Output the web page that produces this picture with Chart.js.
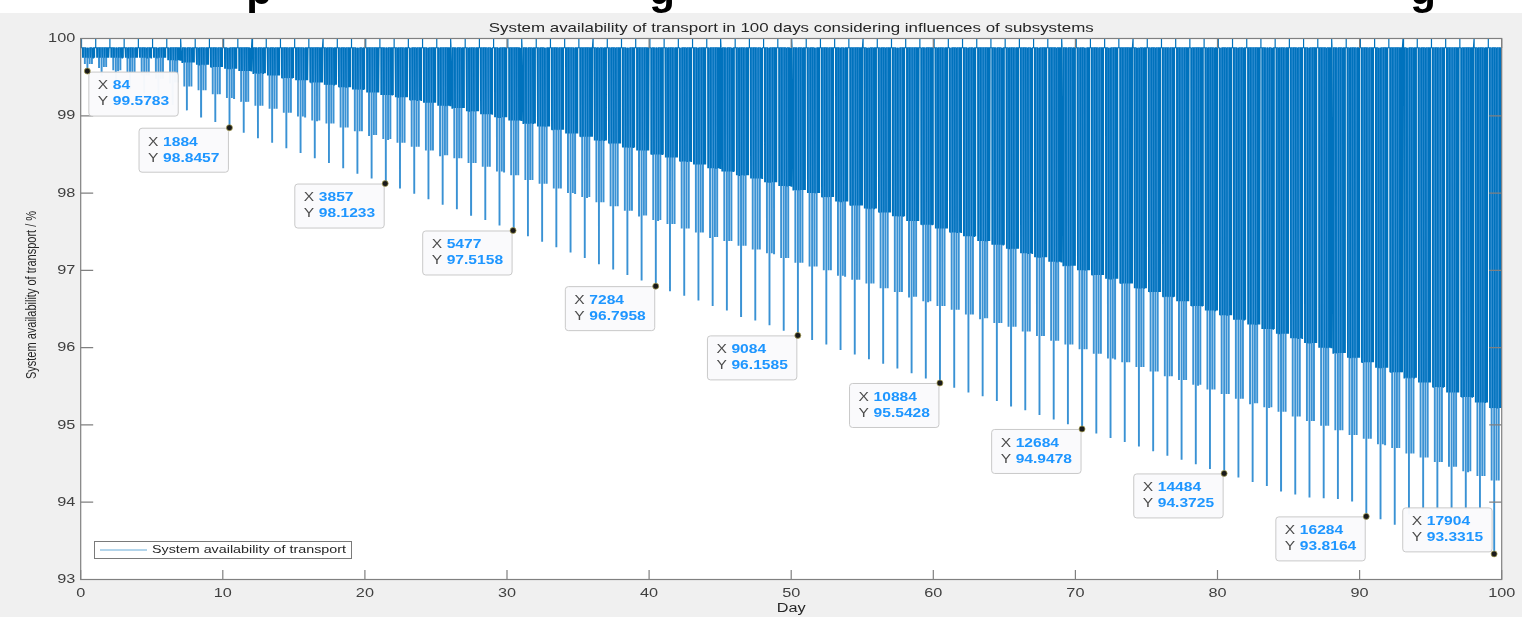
<!DOCTYPE html>
<html>
<head>
<meta charset="utf-8">
<script src="https://cdn.jsdelivr.net/npm/chart.js@4.4.1/dist/chart.umd.min.js"></script>
<style>
  html, body { margin: 0; padding: 0; background: #f0f0f0; overflow: hidden; }
  canvas { display: block; }
</style>
</head>
<body>
<canvas id="availability" width="1522" height="617"></canvas>
<script>
// values (per day, in %)
const samplesPerDay = 180;
const plateau = 99.88;

const deepDip = [
  99.58, 99.51, 99.43, 99.36, 99.29, 99.21, 99.14, 99.07, 98.99, 98.92,
  98.85, 98.78, 98.71, 98.65, 98.58, 98.52, 98.45, 98.39, 98.32, 98.25,
  98.19, 98.12, 98.06, 97.99, 97.92, 97.85, 97.79, 97.72, 97.65, 97.58,
  97.52, 97.44, 97.37, 97.30, 97.23, 97.16, 97.08, 97.01, 96.94, 96.87,
  96.80, 96.73, 96.67, 96.61, 96.54, 96.48, 96.41, 96.35, 96.29, 96.22,
  96.16, 96.10, 96.04, 95.97, 95.91, 95.85, 95.79, 95.73, 95.67, 95.60,
  95.54, 95.48, 95.42, 95.37, 95.31, 95.25, 95.19, 95.13, 95.07, 95.01,
  94.95, 94.89, 94.83, 94.78, 94.72, 94.66, 94.60, 94.55, 94.49, 94.43,
  94.37, 94.32, 94.26, 94.21, 94.15, 94.10, 94.06, 94.05, 94.04, 94.02,
  93.82, 93.78, 93.71, 93.84, 93.90, 93.90, 93.92, 93.90, 93.92, 93.33
];

const midDip = [
  99.67, 99.63, 99.59, 99.56, 99.52, 99.48, 99.43, 99.38, 99.33, 99.28,
  99.23, 99.18, 99.13, 99.09, 99.04, 98.99, 98.94, 98.90, 98.85, 98.80,
  98.75, 98.70, 98.65, 98.60, 98.55, 98.49, 98.45, 98.39, 98.34, 98.28,
  98.23, 98.17, 98.12, 98.06, 98.00, 97.95, 97.88, 97.83, 97.77, 97.71,
  97.65, 97.60, 97.54, 97.49, 97.43, 97.38, 97.32, 97.27, 97.22, 97.16,
  97.10, 97.05, 97.00, 96.93, 96.88, 96.83, 96.77, 96.72, 96.66, 96.60,
  96.54, 96.49, 96.43, 96.38, 96.32, 96.27, 96.21, 96.15, 96.09, 96.04,
  95.98, 95.92, 95.86, 95.81, 95.75, 95.69, 95.63, 95.58, 95.52, 95.46,
  95.40, 95.34, 95.28, 95.23, 95.17, 95.11, 95.05, 94.99, 94.93, 94.87,
  94.82, 94.75, 94.70, 94.63, 94.58, 94.52, 94.46, 94.40, 94.34, 94.28
];

const bandDip = [
  99.75, 99.75, 99.75, 99.75, 99.75, 99.75, 99.72, 99.69, 99.66, 99.63,
  99.61, 99.58, 99.55, 99.52, 99.49, 99.46, 99.43, 99.40, 99.37, 99.34,
  99.30, 99.27, 99.24, 99.20, 99.17, 99.13, 99.10, 99.06, 99.02, 98.98,
  98.94, 98.90, 98.86, 98.82, 98.77, 98.73, 98.68, 98.64, 98.59, 98.55,
  98.50, 98.46, 98.41, 98.37, 98.32, 98.28, 98.23, 98.19, 98.14, 98.09,
  98.04, 98.00, 97.95, 97.89, 97.84, 97.80, 97.75, 97.70, 97.64, 97.59,
  97.54, 97.49, 97.44, 97.38, 97.33, 97.28, 97.22, 97.17, 97.11, 97.06,
  97.00, 96.94, 96.89, 96.83, 96.77, 96.72, 96.66, 96.60, 96.54, 96.48,
  96.42, 96.36, 96.30, 96.24, 96.18, 96.12, 96.06, 96.00, 95.93, 95.87,
  95.81, 95.74, 95.68, 95.61, 95.55, 95.49, 95.42, 95.36, 95.29, 95.22
];

// data tips shown on the figure (sample index, value)
const tipIndex = [84, 1884, 3857, 5477, 7284, 9084, 10884, 12684, 14484, 16284, 17904];
const tipValue = [99.5783, 98.8457, 98.1233, 97.5158, 96.7958, 96.1585, 95.5428, 94.9478, 94.3725, 93.8164, 93.3315];

const titleText = 'System availability of transport in 100 days considering influences of subsystems';
const seriesName = 'System availability of transport';

// ---- build the line: one reset per day followed by a comb of short dips
const dayPattern = [
  [0.13, 'b'], [0.17, 'b'], [0.21, 'b'], [0.25, 'b'], [0.29, 'm'], [0.33, 'b'],
  [0.37, 'b'], [0.41, 'b'], [0.44, 'b'], [0.47, 'd'], [0.51, 'b'], [0.55, 'b'],
  [0.59, 'b'], [0.63, 'm'], [0.67, 'b'], [0.71, 'b'], [0.75, 'b'], [0.79, 'm'],
  [0.83, 'b'], [0.87, 'b'], [0.91, 'b'], [0.95, 'b'], [0.99, 'b']
];
const points = [];
for (let d = 0; d < deepDip.length; d++) {
  points.push({ x: d + 0.050, y: plateau });
  points.push({ x: d + 0.055, y: 100 });
  points.push({ x: d + 0.060, y: plateau });
  for (const [f, kind] of dayPattern) {
    const level = kind === 'd' ? deepDip[d] : kind === 'm' ? midDip[d] : bandDip[d];
    points.push({ x: d + f - 0.006, y: plateau });
    points.push({ x: d + f, y: level });
    points.push({ x: d + f + 0.006, y: plateau });
  }
}
const tipPoints = tipIndex.map((n, i) => ({ x: n / samplesPerDay, y: tipValue[i] }));
const tipPlace = ['rb', 'lb', 'lb', 'lb', 'lb', 'lb', 'lb', 'lb', 'lb', 'lb', 'la'];

const FONT = "'Liberation Sans', Arial, Helvetica, sans-serif";
const SX = 1.3;   // the figure is stretched horizontally

function text(ctx, s, x, y, size, color, align, weight, sx) {
  ctx.save();
  ctx.translate(x, y);
  ctx.scale(sx || SX, 1);
  ctx.font = (weight || 'normal') + ' ' + size + 'px ' + FONT;
  ctx.fillStyle = color;
  ctx.textAlign = align || 'left';
  ctx.textBaseline = 'middle';
  ctx.fillText(s, 0, 0);
  ctx.restore();
}

// spikes that reach below the dense band are drawn lighter and wider
function isLongSpike(c) {
  const day = Math.min(deepDip.length - 1, Math.floor(c.p0.parsed.x));
  return Math.min(c.p0.parsed.y, c.p1.parsed.y) < bandDip[day] - 0.05;
}

const figure = {
  id: 'figure',
  beforeDraw(chart) {
    const { ctx, chartArea: a } = chart;
    ctx.save();
    ctx.fillStyle = '#ffffff';
    ctx.fillRect(0, 0, chart.width, 13);
    ctx.fillStyle = '#f0f0f0';
    ctx.fillRect(0, 13, chart.width, chart.height - 13);
    ctx.fillStyle = '#ffffff';
    ctx.fillRect(a.left, a.top, a.right - a.left, a.bottom - a.top);
    // descenders of the caption above the figure
    ctx.fillStyle = '#000';
    ctx.font = 'bold 42px ' + FONT;
    ctx.textAlign = 'center';
    ctx.textBaseline = 'alphabetic';
    ctx.fillText('p', 259, 3.5);
    ctx.fillText('g', 662, 3.5);
    ctx.fillText('g', 1423, 3.5);
    ctx.restore();
  },
  afterDatasetsDraw(chart) {
    const { ctx, chartArea: a, scales: { x, y } } = chart;
    ctx.save();
    // box and inward ticks
    ctx.strokeStyle = '#808080';
    ctx.lineWidth = 1.2;
    ctx.strokeRect(a.left, a.top, a.right - a.left, a.bottom - a.top);
    ctx.beginPath();
    x.ticks.forEach(t => {
      const px = x.getPixelForValue(t.value);
      ctx.moveTo(px, a.bottom); ctx.lineTo(px, a.bottom - 9.5);
      ctx.moveTo(px, a.top); ctx.lineTo(px, a.top + 9.5);
    });
    y.ticks.forEach(t => {
      const py = y.getPixelForValue(t.value);
      ctx.moveTo(a.left, py); ctx.lineTo(a.left + 12.5, py);
      ctx.moveTo(a.right, py); ctx.lineTo(a.right - 12.5, py);
    });
    ctx.stroke();
    ctx.restore();

    x.ticks.forEach(t => text(ctx, String(t.value), x.getPixelForValue(t.value), 593, 13, '#404040', 'center', 'normal', 1.25));
    y.ticks.forEach(t => text(ctx, String(t.value), a.left - 5.5, y.getPixelForValue(t.value), 13, '#404040', 'right', 'normal', 1.25));

    text(ctx, titleText, (a.left + a.right) / 2, 28, 13, '#262626', 'center');
    text(ctx, 'Day', (a.left + a.right) / 2, 609, 12.5, '#262626', 'center');

    ctx.save();
    ctx.translate(32, 295);
    ctx.rotate(-Math.PI / 2);
    ctx.scale(1, SX);
    ctx.font = '11px ' + FONT;
    ctx.fillStyle = '#262626';
    ctx.textAlign = 'center';
    ctx.textBaseline = 'middle';
    ctx.fillText('System availability of transport / %', 0, 0);
    ctx.restore();

    // legend
    ctx.save();
    ctx.fillStyle = '#ffffff';
    ctx.fillRect(94.5, 541.5, 257, 17);
    ctx.strokeStyle = '#7a7a7a';
    ctx.lineWidth = 1;
    ctx.strokeRect(94.5, 541.5, 257, 17);
    ctx.strokeStyle = 'rgba(0,114,189,0.6)';
    ctx.beginPath();
    ctx.moveTo(100, 550); ctx.lineTo(147, 550);
    ctx.stroke();
    ctx.restore();
    text(ctx, seriesName, 152, 550, 11, '#262626', 'left');

    // data tips
    const meta = chart.getDatasetMeta(1);
    meta.data.forEach((el, i) => {
      const px = el.x, py = el.y;
      ctx.save();
      ctx.font = 'bold 12px ' + FONT;
      const vx = String(tipIndex[i]), vy = String(tipValue[i]);
      const w = 24 + Math.max(ctx.measureText(vx).width, ctx.measureText(vy).width) * SX + 9;
      const h = 44;
      let bx, by;
      if (tipPlace[i] === 'rb') { bx = px + 1.5; by = py + 1; }
      else if (tipPlace[i] === 'la') { bx = px - 2 - w; by = py - 2 - h; }
      else { bx = px - w - 1; by = py + 0.5; }
      ctx.fillStyle = 'rgba(250,250,252,0.97)';
      ctx.strokeStyle = '#c9c9c9';
      ctx.lineWidth = 1;
      ctx.beginPath();
      ctx.roundRect(bx, by, w, h, 3);
      ctx.fill();
      ctx.stroke();
      ctx.restore();
      text(ctx, 'X', bx + 9, by + 14, 12, '#4d4d4d', 'left');
      text(ctx, 'Y', bx + 9, by + 30, 12, '#4d4d4d', 'left');
      text(ctx, vx, bx + 24, by + 14, 12, '#1e96ff', 'left', 'bold');
      text(ctx, vy, bx + 24, by + 30, 12, '#1e96ff', 'left', 'bold');
      // marker on top
      ctx.save();
      ctx.beginPath();
      ctx.arc(px, py, 3, 0, Math.PI * 2);
      ctx.fillStyle = '#1a1a1a';
      ctx.fill();
      ctx.strokeStyle = 'rgba(170,160,80,0.9)';
      ctx.lineWidth = 0.8;
      ctx.stroke();
      ctx.restore();
    });
  }
};

new Chart(document.getElementById('availability').getContext('2d'), {
  type: 'line',
  data: {
    datasets: [
      {
        label: seriesName,
        data: points,
        borderColor: 'rgb(0,114,189)',
        borderWidth: 1.2,
        pointRadius: 0,
        tension: 0,
        fill: false,
        segment: {
          borderColor: c => isLongSpike(c) ? 'rgb(58,146,212)' : undefined,
          borderWidth: c => isLongSpike(c) ? 1.9 : undefined
        }
      },
      {
        type: 'scatter',
        label: 'tips',
        data: tipPoints,
        pointRadius: 0,
        showLine: false
      }
    ]
  },
  options: {
    responsive: false,
    animation: false,
    parsing: false,
    normalized: true,
    events: [],
    layout: { padding: { left: 0, right: 20.3, top: 38.5, bottom: 0 } },
    plugins: {
      legend: { display: false },
      tooltip: { enabled: false },
      title: { display: false }
    },
    scales: {
      x: {
        type: 'linear', min: 0, max: 100,
        ticks: { stepSize: 10, display: false },
        grid: { display: false },
        border: { display: false },
        afterFit: s => { s.height = 617 - 579.5; }
      },
      y: {
        type: 'linear', min: 93, max: 100,
        ticks: { stepSize: 1, display: false },
        grid: { display: false },
        border: { display: false },
        afterFit: s => { s.width = 80.7; }
      }
    }
  },
  plugins: [figure]
});
</script>
</body>
</html>
